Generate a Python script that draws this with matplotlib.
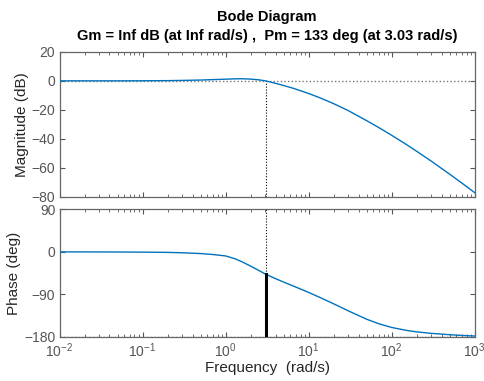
import matplotlib
matplotlib.use("Agg")
import matplotlib.pyplot as plt
import numpy as np

# values (rad/s, dB, deg)
freq = [0.01, 0.02, 0.05, 0.1, 0.2, 0.3, 0.5, 0.7, 1.0, 1.3, 1.6, 2.0, 2.5, 3.03,
        4.0, 5.0, 6.5, 8.0, 10.0, 14.0, 20.0, 30.0, 50.0, 70.0, 100.0, 150.0, 200.0,
        300.0, 500.0, 700.0, 1000.0]
mag_db = [0.0, 0.0, 0.0, 0.05, 0.15, 0.3, 0.55, 0.85, 1.15, 1.4, 1.45, 1.2, 0.7, 0.0,
          -1.7, -3.2, -5.1, -6.8, -8.7, -11.9, -15.7, -20.5, -27.4, -32.2, -37.5, -43.8, -48.5,
          -55.3, -64.3, -70.4, -77.0]
phase_deg = [0.0, 0.0, -0.2, -0.5, -1.0, -1.8, -3.5, -5.5, -8.5, -14.5, -21.5, -30.0, -39.0, -47.0,
             -56.6, -63.8, -72.0, -78.5, -85.7, -97.1, -109.8, -124.6, -142.4, -152.0, -159.8, -166.0,
             -169.1, -172.3, -175.2, -176.7, -177.9]

wc = 3.03
pm_phase = -47.0
mag_ticks = [20, 0, -20, -40, -60, -80]
phase_ticks = [90, 0, -90, -180]

BLUE = "#0072BD"
TICK_GRAY = "#555555"
AX_GRAY = "#666666"

plt.rcParams["font.family"] = ["Liberation Sans", "DejaVu Sans"]
plt.rcParams["mathtext.default"] = "regular"

fig = plt.figure(figsize=(4.85, 3.81), dpi=100)
ax1 = fig.add_axes([0.1227, 0.483, 0.856, 0.381])
ax2 = fig.add_axes([0.1227, 0.1155, 0.856, 0.335], sharex=ax1)

for ax in (ax1, ax2):
    ax.set_xscale("log")
    ax.set_xlim(1e-2, 1e3)
    ax.tick_params(which="both", direction="in", top=True, right=True,
                   colors=TICK_GRAY, labelsize=10, pad=3)
    ax.tick_params(which="major", length=3.5, width=0.8)
    ax.tick_params(which="minor", length=2, width=0.6)
    for s in ax.spines.values():
        s.set_color(AX_GRAY)
        s.set_linewidth(0.9)

ax1.plot(freq, mag_db, color=BLUE, lw=1.0, zorder=3)
ax1.axhline(0, color="#777777", lw=1.0, ls=(0, (1, 1.6)), zorder=2)
ax1.plot([wc, wc], [-80, 0], color="black", lw=0.8, ls=(0, (1, 1.6)))
ax1.set_ylim(-80, 20)
ax1.set_yticks(mag_ticks)
ax1.set_ylabel("Magnitude (dB)", fontsize=11, color="#262626", labelpad=2)
plt.setp(ax1.get_xticklabels(), visible=False)

ax2.plot(freq, phase_deg, color=BLUE, lw=1.0, zorder=3)
ax2.axhline(-180, color="#777777", lw=1.0, ls=(0, (1, 1.6)), zorder=2)
ax2.plot([wc, wc], [pm_phase, 90], color="black", lw=0.8, ls=(0, (1, 1.6)))
ax2.plot([wc, wc], [-180, pm_phase], color="black", lw=2.2, zorder=4)
ax2.set_ylim(-180, 90)
ax2.set_yticks(phase_ticks)
ax2.set_ylabel("Phase (deg)", fontsize=11, color="#262626", labelpad=2)
ax2.set_xticks([1e-2, 1e-1, 1e0, 1e1, 1e2, 1e3])
ax2.set_xlabel("Frequency  (rad/s)", fontsize=11, color="#262626", labelpad=1)

fig.text(0.551, 0.955, "Bode Diagram", ha="center", va="center",
         fontsize=10.5, fontweight="bold", color="black")
fig.text(0.551, 0.905, "Gm = Inf dB (at Inf rad/s) ,  Pm = 133 deg (at 3.03 rad/s)",
         ha="center", va="center", fontsize=10.5, fontweight="bold", color="black")

fig.savefig("out.png", dpi=100)
